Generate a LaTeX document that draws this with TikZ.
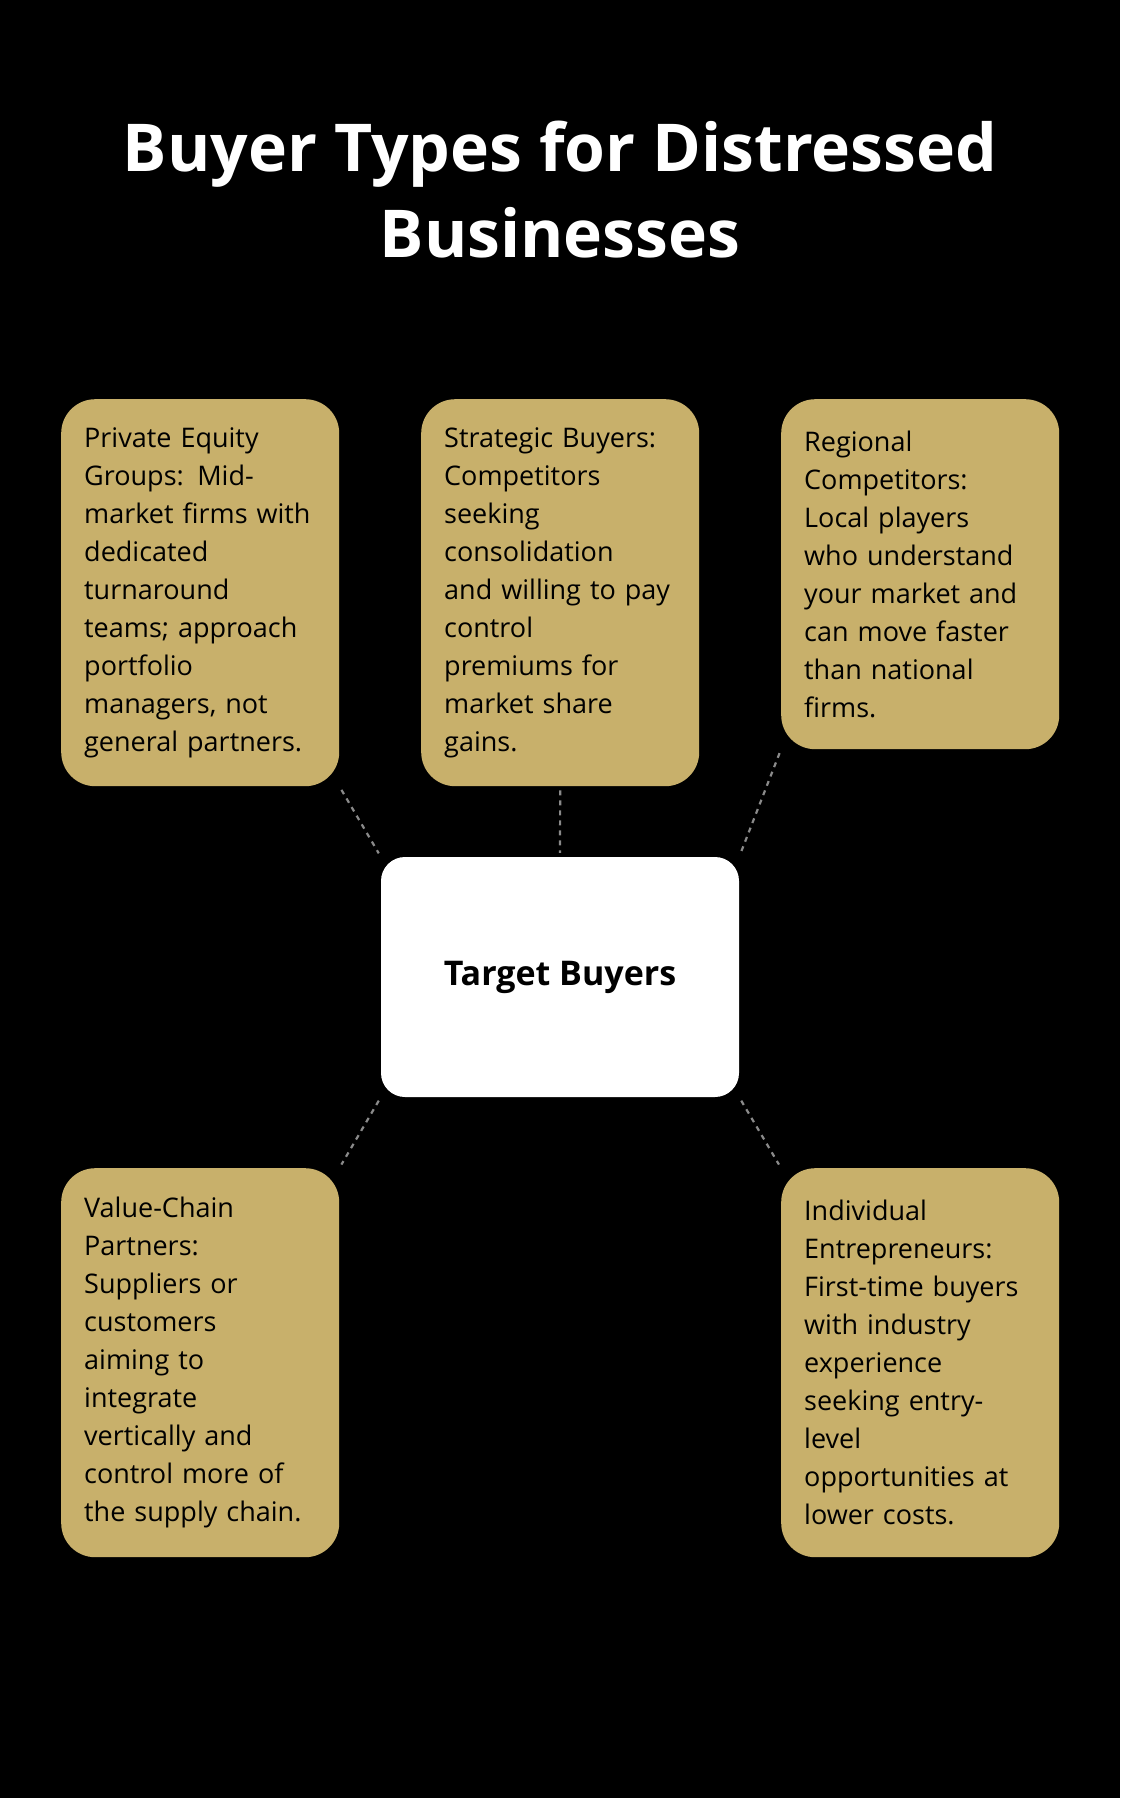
\documentclass[tikz,border=0pt]{standalone}
\usepackage{fontspec}
\setmainfont{Open Sans}
\definecolor{gold}{HTML}{C8B06B}
\definecolor{dash}{HTML}{8A8A8A}
\begin{document}
\begin{tikzpicture}[x=1pt,y=-1pt,
  card/.style={fill=gold,rounded corners=34pt,anchor=north west,minimum width=278pt,text width=232pt,inner sep=23pt,align=left,font=\fontsize{27}{38}\selectfont,text=black},
  link/.style={draw=dash,dashed,line width=2.2pt,dash pattern=on 5pt off 5pt,shorten <=4pt,shorten >=4pt}]
\useasboundingbox[fill=black] (0,0) rectangle (1120,1798);
\node[text=white,font=\bfseries\fontsize{66}{86}\selectfont,align=center] (title) at (560,190) {Buyer Types for Distressed\\Businesses};
\node[card,minimum height=387pt] (b1) at (61,399) {Private Equity\\Groups: Mid-\\market firms with\\dedicated\\turnaround\\teams; approach\\portfolio\\managers, not\\general partners.};
\node[card,minimum height=387pt] (b2) at (421,399) {Strategic Buyers:\\Competitors\\seeking\\consolidation\\and willing to pay\\control\\premiums for\\market share\\gains.};
\node[card,minimum height=350pt] (b3) at (781,399) {Regional\\Competitors:\\Local players\\who understand\\your market and\\can move faster\\than national\\firms.};
\node[card,minimum height=389pt] (b4) at (61,1168) {Value-Chain\\Partners:\\Suppliers or\\customers\\aiming to\\integrate\\vertically and\\control more of\\the supply chain.};
\node[card,minimum height=389pt] (b5) at (781,1168) {Individual\\Entrepreneurs:\\First-time buyers\\with industry\\experience\\seeking entry-\\level\\opportunities at\\lower costs.};
\node[fill=white,rounded corners=24pt,minimum width=358pt,minimum height=240pt,font=\bfseries\fontsize{34}{40}\selectfont] (c) at (560,977) {Target Buyers};
\draw[link] (b1.south east) -- (c.north west);
\draw[link] (b2.south) -- (c.north);
\draw[link] (b3.south west) -- (c.north east);
\draw[link] (c.south west) -- (b4.north east);
\draw[link] (c.south east) -- (b5.north west);
\end{tikzpicture}
\end{document}
